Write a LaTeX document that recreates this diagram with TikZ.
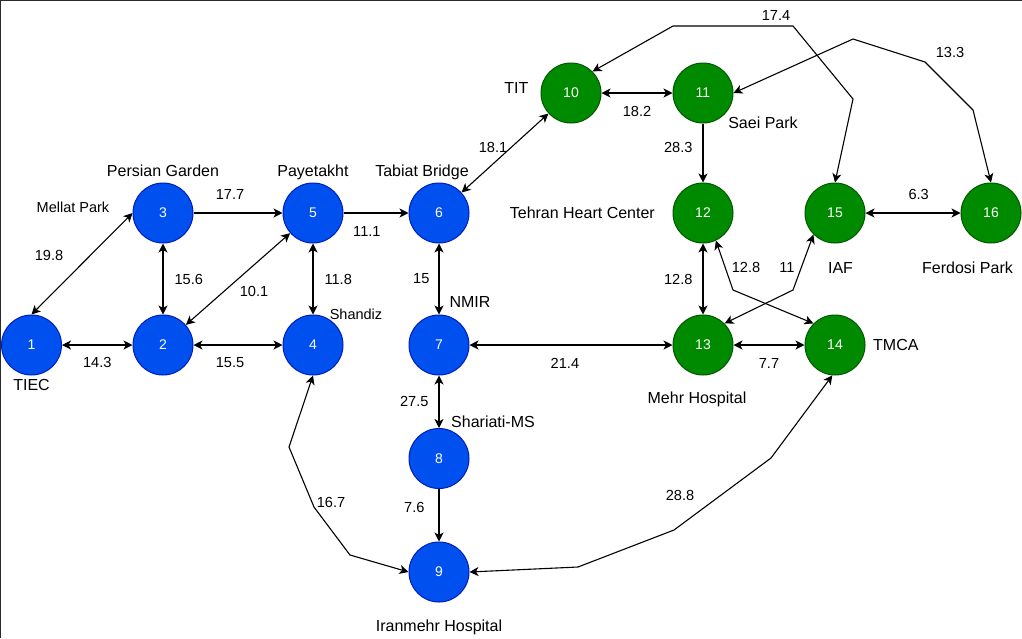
\documentclass[tikz,border=0pt]{standalone}
\usepackage{fontspec}
\setmainfont{Liberation Sans}
\usetikzlibrary{arrows.meta, positioning}

\definecolor{stopblue}{HTML}{0050EF}
\definecolor{stopblueline}{HTML}{001DBC}
\definecolor{stopgreen}{HTML}{008A00}
\definecolor{stopgreenline}{HTML}{005700}
\definecolor{framegray}{HTML}{2B2B2B}

\begin{document}
\begin{tikzpicture}[
    x=1pt, y=-1pt,
    stop/.style={circle, draw, line width=1pt, minimum size=60pt, inner sep=0pt, text=white, font=\fontsize{14}{16}\selectfont},
    bluestop/.style={stop, fill=stopblue, draw=stopblueline},
    greenstop/.style={stop, fill=stopgreen, draw=stopgreenline},
    place/.style={inner sep=1pt, font=\fontsize{16}{19}\selectfont},
    smallplace/.style={place, font=\fontsize{14.5}{17}\selectfont},
    weight/.style={inner sep=1pt, font=\fontsize{14.6}{17}\selectfont},
    arrow/.style={line width=1.1pt, ->, >={Stealth[length=9pt, width=9pt, inset=2.5pt]}},
    both/.style={arrow, <->}
]
    \useasboundingbox (0,0) rectangle (1022,638);
    \draw[framegray, line width=2pt] (0,638) -- (0,0) -- (1022,0);

    % Stops
    \node[bluestop] (tiec) at (31.5,345) {1};
    \node[bluestop] (mellat) at (163,345) {2};
    \node[bluestop] (persian) at (163,213) {3};
    \node[bluestop] (shandiz) at (313,345) {4};
    \node[bluestop] (payetakht) at (313,213) {5};
    \node[bluestop] (tabiat) at (439,213) {6};
    \node[bluestop] (nmir) at (439,345) {7};
    \node[bluestop] (shariati) at (439,458.5) {8};
    \node[bluestop] (iranmehr) at (439,572) {9};
    \node[greenstop] (tit) at (571,93) {10};
    \node[greenstop] (saei) at (703,93) {11};
    \node[greenstop] (heart) at (703,213) {12};
    \node[greenstop] (mehr) at (703,345) {13};
    \node[greenstop] (tmca) at (835,345) {14};
    \node[greenstop] (iaf) at (835,213) {15};
    \node[greenstop] (ferdosi) at (991,213) {16};

    % Names
    \node[place, below=3pt of tiec] (tiec-name) {TIEC};
    \node[smallplace] (mellat-name) at (73,207) {Mellat Park};
    \node[place, above=5pt of persian] (persian-name) {Persian Garden};
    \node[smallplace] (shandiz-name) at (356,314) {Shandiz};
    \node[place, above=1.5pt of payetakht] (payetakht-name) {Payetakht};
    \node[place, above=1.5pt of tabiat, xshift=-17pt] (tabiat-name) {Tabiat Bridge};
    \node[place] (nmir-name) at (470,302) {NMIR};
    \node[place] (shariati-name) at (493,422) {Shariati-MS};
    \node[place, below=16pt of iranmehr] (iranmehr-name) {Iranmehr Hospital};
    \node[place, left=11pt of tit, yshift=5.5pt] (tit-name) {TIT};
    \node[place] (saei-name) at (763,123) {Saei Park};
    \node[place, left=16.5pt of heart] (heart-name) {Tehran Heart Center};
    \node[place, below=15.5pt of mehr, xshift=-6pt] (mehr-name) {Mehr Hospital};
    \node[place, right=6.5pt of tmca] (tmca-name) {TMCA};
    \node[place, below=17.5pt of iaf, xshift=5.5pt] (iaf-name) {IAF};
    \node[place, below=17.5pt of ferdosi, xshift=-23.5pt] (ferdosi-name) {Ferdosi Park};

    % Arrows
    \draw[both] (tiec.north) -- (persian.west) node[weight] (d13) at (49,255) {19.8};
    \draw[both] (tiec) -- node[weight, below=11pt] (d12) {14.3} (mellat);
    \draw[both] (persian) -- node[weight, right=10pt] (d23) {15.6} (mellat);
    \draw[both] (mellat) -- (payetakht) node[weight] (d25) at (254,291) {10.1};
    \draw[arrow] (persian) -- node[weight, pos=.41, above=12pt] (d35) {17.7} (payetakht);
    \draw[both] (mellat) -- node[weight, pos=.41, below=11pt] (d24) {15.5} (shandiz);
    \draw[both] (payetakht) -- node[weight, right=10pt] (d45) {11.8} (shandiz);
    \draw[arrow] (payetakht) -- node[weight, pos=.36, below=12pt] (d56) {11.1} (tabiat);
    \draw[both] (tabiat) -- node[weight, left=8pt] (d67) {15} (nmir);
    \draw[both] (tabiat) -- (tit) node[weight] (d610) at (493,147) {18.1};
    \draw[both] (nmir) -- node[weight, left=9pt] (d78) {27.5} (shariati);
    \draw[arrow] (shariati) -- node[weight, pos=.35, left=13pt] (d89) {7.6} (iranmehr);
    \draw[both] (shandiz.south) -- (289,447) -- (314,507) -- (350,555) -- (iranmehr.west) node[weight] (d49) at (331,502) {16.7};
    \draw[both] (nmir) -- node[weight, pos=.47, below=12pt] (d713) {21.4} (mehr);
    \draw[both] (iranmehr.east) -- (578,567) -- (674,530) -- (771,458) -- (tmca.-95) node[weight] (d914) at (680,495) {28.8};
    \draw[both] (tit) -- node[weight, below=12pt] (d1011) {18.2} (saei);
    \draw[arrow] (saei) -- node[weight, pos=.4, left=9pt] (d1112) {28.3} (heart);
    \draw[both] (heart) -- node[weight, left=9pt] (d1213) {12.8} (mehr);
    \draw[both] (heart.-65) -- (733,290) -- (tmca.north west) node[weight] (d1214) at (746,267) {12.8};
    \draw[both] (mehr.north east) -- (793,290) -- (iaf.south west) node[weight] (d1315) at (787,267) {11};
    \draw[both] (mehr) -- node[weight, below=12pt] (d1314) {7.7} (tmca);
    \draw[both] (iaf) -- node[weight, pos=.56, above=12pt] (d1516) {6.3} (ferdosi);
    \draw[both] (tit.north east) -- (673,26) -- (793,26) -- (853,99) -- (iaf.north) node[weight] (d1015) at (776,15) {17.4};
    \draw[both] (saei.east) -- (853,39) -- (925,62) -- (973,110) -- (ferdosi.north) node[weight] (d1116) at (950,52) {13.3};
\end{tikzpicture}
\end{document}
